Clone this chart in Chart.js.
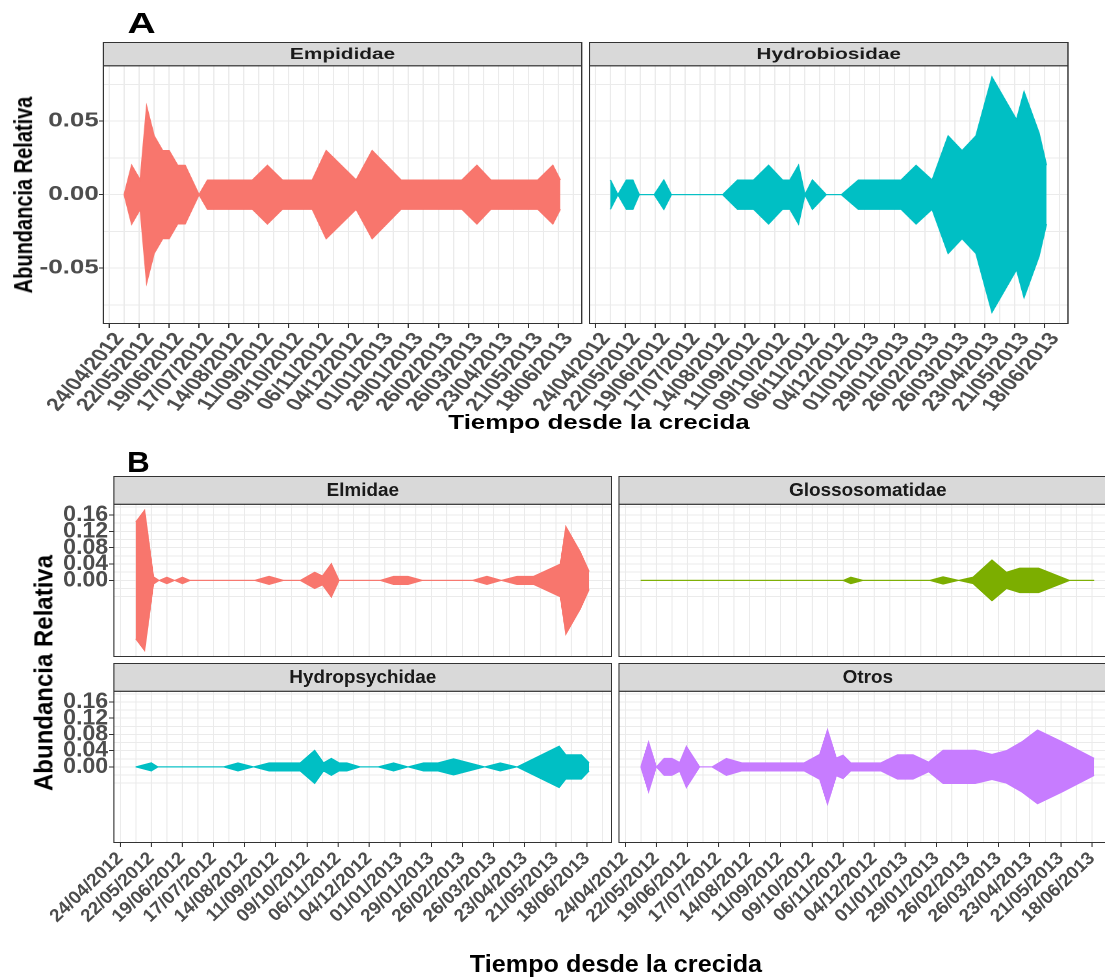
<!DOCTYPE html>
<html>
<head>
<meta charset="utf-8">
<script src="https://cdn.jsdelivr.net/npm/chart.js@4.4.1/dist/chart.umd.min.js"></script>
<style>
    html, body { margin: 0; padding: 0; background: #fff; width: 1105px; height: 977px; overflow: hidden; }
    .wrap { position: absolute; left: 0; top: 0; height: 977px; transform-origin: 0 0; }
    .wrap canvas { position: absolute; }
    .txt { position: absolute; font-family: "Liberation Sans", Arial, Helvetica, sans-serif; font-weight: bold; color: #000; white-space: nowrap; }
</style>
</head>
<body>
<script>
/* ============================================================
   Abundancia relativa por familia – paneles A y B
   ============================================================ */

/* --- Data (days since 24/04/2012, half-width of each kite) --- */
var xTickLabels = ['24/04/2012', '22/05/2012', '19/06/2012', '17/07/2012', '14/08/2012', '11/09/2012',
    '09/10/2012', '06/11/2012', '04/12/2012', '01/01/2013', '29/01/2013', '26/02/2013',
    '26/03/2013', '23/04/2013', '21/05/2013', '18/06/2013'];

var yTickValsA = [-0.05, 0, 0.05];
var yTickLabelsA = ['-0.05', '0.00', '0.05'];
var yMinorA = [-0.075, -0.025, 0.025, 0.075];

var yTickValsB = [0, 0.04, 0.08, 0.12, 0.16];
var yTickLabelsB = ['0.00', '0.04', '0.08', '0.12', '0.16'];
var yMinorB = [-0.04, -0.02, 0.02, 0.06, 0.10, 0.14, 0.18];

// A – Empididae
var empDays = [14, 21, 29, 35, 42, 50, 56, 64, 71, 84, 92, 134, 148, 162, 190, 203, 231, 246, 273, 330, 344, 357, 401, 415, 422];
var empVals = [0, 0.02, 0.01, 0.06, 0.04, 0.03, 0.03, 0.02, 0.02, 0, 0.01, 0.01, 0.02, 0.01, 0.01, 0.03, 0.01, 0.03, 0.01, 0.01, 0.02, 0.01, 0.01, 0.02, 0.01];

// A – Hydrobiosidae
var hybDays = [14, 21, 29, 35, 41, 55, 64, 71, 119, 133, 148, 162, 175, 182, 190, 196, 203, 216, 230, 246, 286, 300, 315, 330, 343, 356, 371, 394, 401, 415, 422];
var hybVals = [0.01, 0, 0.01, 0.01, 0, 0, 0.01, 0, 0, 0.01, 0.01, 0.02, 0.01, 0.01, 0.02, 0, 0.01, 0, 0, 0.01, 0.01, 0.02, 0.01, 0.04, 0.03, 0.04, 0.08, 0.051, 0.07, 0.042, 0.02];

// B – Elmidae
var elmDays = [14, 22, 30, 35, 42, 49, 56, 63, 121, 134, 147, 162, 175, 182, 190, 197, 234, 246, 259, 272, 317, 330, 343, 357, 372, 396, 401, 414, 422];
var elmVals = [0.143, 0.172, 0.009, 0, 0.008, 0, 0.008, 0, 0, 0.01, 0, 0, 0.02, 0.011, 0.041, 0, 0, 0.01, 0.01, 0, 0, 0.01, 0, 0.01, 0.01, 0.04, 0.132, 0.07, 0.022];

// B – Glossosomatidae
var gloDays = [14, 196, 203, 214, 274, 286, 300, 313, 330, 343, 355, 372, 400, 422];
var gloVals = [0, 0, 0.008, 0, 0, 0.009, 0, 0.008, 0.05, 0.02, 0.03, 0.03, 0, 0];

// B – Hydropsychidae
var hpsDays = [14, 28, 34, 93, 106, 120, 134, 162, 175, 183, 190, 197, 204, 216, 232, 246, 259, 273, 286, 300, 328, 342, 357, 395, 401, 415, 422];
var hpsVals = [0, 0.01, 0, 0, 0.01, 0, 0.01, 0.01, 0.041, 0.01, 0.021, 0.01, 0.01, 0, 0, 0.01, 0, 0.01, 0.01, 0.02, 0, 0.01, 0, 0.051, 0.03, 0.03, 0.01];

// B – Otros
var otrDays = [14, 21, 28, 35, 42, 49, 55, 67, 78, 91, 105, 161, 175, 182, 190, 196, 203, 230, 245, 259, 273, 286, 315, 330, 343, 357, 371, 393, 422];
var otrVals = [0, 0.062, 0, 0.021, 0.021, 0.011, 0.051, 0, 0, 0.021, 0.01, 0.01, 0.031, 0.092, 0.022, 0.029, 0.01, 0.01, 0.03, 0.03, 0.012, 0.041, 0.041, 0.031, 0.04, 0.062, 0.091, 0.062, 0.021];

/* --- Shared look --- */
var FONT = '"Liberation Sans", Arial, Helvetica, sans-serif';
var GRID = '#ebebeb';
var TICK = '#4d4d4d';
var X_MIN = -6.1, X_MAX = 442.7;

var red = '#F8766D', cyan = '#00BFC4', green = '#7CAE00', purple = '#C77CFF';

/* --- Strip header + panel border --- */
var stripPlugin = {
    id: 'strip',
    afterDraw: function (chart, args, o) {
        var a = chart.chartArea, c = chart.ctx;
        var w = a.right - a.left;
        c.save();
        c.fillStyle = '#d9d9d9';
        c.fillRect(a.left, a.top - o.h, w, o.h);
        c.strokeStyle = '#333';
        c.lineWidth = 1;
        c.strokeRect(a.left + 0.5, a.top - o.h + 0.5, w - 1, o.h);
        c.strokeRect(a.left + 0.5, a.top + 0.5, w - 1, a.bottom - a.top - 1);
        c.fillStyle = '#1a1a1a';
        c.font = 'bold ' + o.size + 'px ' + FONT;
        c.textAlign = 'center';
        c.textBaseline = 'middle';
        c.fillText(o.title, (a.left + a.right) / 2, a.top - o.h / 2 + 1);
        c.restore();
    }
};

function makeWrap(K) {
    var w = document.createElement('div');
    w.className = 'wrap';
    w.style.width = (1105 / K) + 'px';
    w.style.transform = 'scaleX(' + K + ')';
    document.body.appendChild(w);
    return w;
}

function addText(wrap, K, txt, cx, cy, size, rot) {
    var d = document.createElement('div');
    d.className = 'txt';
    d.textContent = txt;
    d.style.fontSize = size + 'px';
    d.style.lineHeight = size + 'px';
    d.style.left = (cx / K) + 'px';
    d.style.top = cy + 'px';
    d.style.transform = 'translate(-50%,-50%)' + (rot ? ' rotate(' + rot + 'deg)' : '');
    wrap.appendChild(d);
}

function xTicks() {
    var t = [];
    for (var i = 0; i < xTickLabels.length; i++) {
        t.push({ value: i * 28, lab: xTickLabels[i] });
        t.push({ value: i * 28 + 14, lab: '' });
    }
    return t;
}

function yTicks(vals, labels, minor) {
    var t = vals.map(function (v, i) { return { value: v, lab: labels[i] }; });
    minor.forEach(function (v) { t.push({ value: v, lab: '' }); });
    t.sort(function (a, b) { return a.value - b.value; });
    return t;
}

function panel(wrap, K, p) {
    var padL = 90, padR = 4;
    var padB = p.xLabels ? 130 : 3;
    var yw = p.yLabels ? p.yAxisW : 0;
    var cv = document.createElement('canvas');
    cv.width = Math.round((p.R - p.L) / K + padL + padR);
    cv.height = Math.round(p.stripH + (p.B - p.T) + padB);
    cv.style.left = (p.L / K - padL) + 'px';
    cv.style.top = (p.T - p.stripH) + 'px';
    wrap.appendChild(cv);

    var upper = p.days.map(function (d, i) { return { x: d, y: p.vals[i] }; });
    var lower = p.days.map(function (d, i) { return { x: d, y: -p.vals[i] }; });

    new Chart(cv, {
        type: 'line',
        data: {
            datasets: [
                { data: upper, borderColor: p.color, backgroundColor: p.color, borderWidth: 1,
                  pointRadius: 0, tension: 0, fill: '+1' },
                { data: lower, borderColor: p.color, backgroundColor: p.color, borderWidth: 1,
                  pointRadius: 0, tension: 0, fill: false }
            ]
        },
        options: {
            responsive: false,
            animation: false,
            devicePixelRatio: 2,
            events: [],
            layout: { padding: { left: padL - yw, right: padR, top: p.stripH, bottom: 0 } },
            plugins: {
                legend: { display: false },
                tooltip: { enabled: false },
                strip: { title: p.title, h: p.stripH, size: p.stripSize }
            },
            scales: {
                x: {
                    type: 'linear',
                    min: X_MIN,
                    max: X_MAX,
                    afterBuildTicks: function (s) { s.ticks = xTicks(); },
                    afterFit: function (s) { s.height = padB; s.paddingLeft = 0; s.paddingRight = 0; },
                    border: { display: false },
                    grid: {
                        color: GRID,
                        lineWidth: 1,
                        drawTicks: p.xLabels,
                        tickLength: 4,
                        tickColor: function (ctx) { return ctx.tick && ctx.tick.lab ? '#333' : 'rgba(0,0,0,0)'; }
                    },
                    ticks: {
                        display: p.xLabels,
                        autoSkip: false,
                        minRotation: p.xRot,
                        maxRotation: p.xRot,
                        padding: 1,
                        labelOffset: p.xOff,
                        color: TICK,
                        font: { family: FONT, weight: 'bold', size: p.xSize },
                        callback: function (v, i, t) { return t[i].lab; }
                    }
                },
                y: {
                    min: -p.yLim,
                    max: p.yLim,
                    afterBuildTicks: function (s) { s.ticks = yTicks(p.yVals, p.yLabs, p.yMinor); },
                    afterFit: function (s) { s.width = yw; s.paddingTop = 0; s.paddingBottom = 0; },
                    border: { display: false },
                    grid: {
                        color: GRID,
                        lineWidth: 1,
                        drawTicks: p.yLabels,
                        tickLength: p.yTickLen,
                        tickColor: function (ctx) { return ctx.tick && ctx.tick.lab ? '#333' : 'rgba(0,0,0,0)'; }
                    },
                    ticks: {
                        display: p.yLabels,
                        autoSkip: false,
                        padding: p.yPad,
                        color: TICK,
                        font: { family: FONT, weight: 'bold', size: p.ySize },
                        callback: function (v, i, t) { return t[i].lab; }
                    }
                }
            }
        },
        plugins: [stripPlugin]
    });
}

/* ========================================
   A. Empididae / Hydrobiosidae
   ======================================== */
var K_A = 1.3;
var wA = makeWrap(K_A);
var baseA = { T: 65, B: 324, stripH: 23.3, stripSize: 16, xSize: 18, xRot: 55, xOff: 8, ySize: 20, yAxisW: 50,
              yTickLen: 3, yPad: 0, yLim: 0.088, yVals: yTickValsA, yLabs: yTickLabelsA, yMinor: yMinorA,
              xLabels: true };

panel(wA, K_A, Object.assign({}, baseA, { title: 'Empididae', L: 102.7, R: 582.3, yLabels: true,
    days: empDays, vals: empVals, color: red }));
panel(wA, K_A, Object.assign({}, baseA, { title: 'Hydrobiosidae', L: 588.3, R: 1068.3, yLabels: false,
    days: hybDays, vals: hybVals, color: cyan }));

addText(wA, K_A, 'A', 141.7, 22.5, 30);
addText(wA, K_A, 'Abundancia Relativa', 23, 195, 20, -90);
addText(wA, K_A, 'Tiempo desde la crecida', 599, 422, 20);

/* ========================================
   B. Elmidae / Glossosomatidae / Hydropsychidae / Otros
   ======================================== */
var K_B = 1.05;
var wB = makeWrap(K_B);
var baseB = { stripH: 27.8, stripSize: 18, xSize: 18, xRot: 45, xOff: 0, ySize: 22, yAxisW: 60,
              yTickLen: 4, yPad: 1, yLim: 0.1875, yVals: yTickValsB, yLabs: yTickLabelsB, yMinor: yMinorB };

panel(wB, K_B, Object.assign({}, baseB, { title: 'Elmidae', L: 113.3, R: 611.7, T: 503.3, B: 656,
    yLabels: true, xLabels: false, days: elmDays, vals: elmVals, color: red }));
panel(wB, K_B, Object.assign({}, baseB, { title: 'Glossosomatidae', L: 618.3, R: 1116.7, T: 503.3, B: 656,
    yLabels: false, xLabels: false, days: gloDays, vals: gloVals, color: green }));
panel(wB, K_B, Object.assign({}, baseB, { title: 'Hydropsychidae', L: 113.3, R: 611.7, T: 690.7, B: 842.7,
    yLabels: true, xLabels: true, days: hpsDays, vals: hpsVals, color: cyan }));
panel(wB, K_B, Object.assign({}, baseB, { title: 'Otros', L: 618.3, R: 1116.7, T: 690.7, B: 842.7,
    yLabels: false, xLabels: true, days: otrDays, vals: otrVals, color: purple }));

addText(wB, K_B, 'B', 138.5, 461.5, 30);
addText(wB, K_B, 'Abundancia Relativa', 44, 673, 24, -90);
addText(wB, K_B, 'Tiempo desde la crecida', 616, 964, 24);
</script>
</body>
</html>
